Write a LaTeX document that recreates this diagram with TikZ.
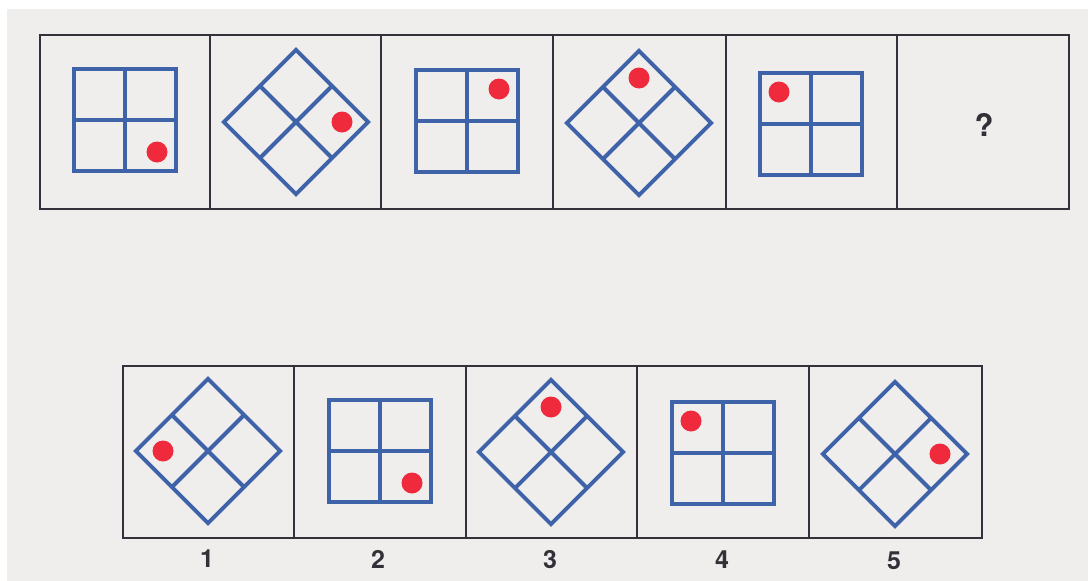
\documentclass[tikz,border=0pt]{standalone}
\usepackage{fontspec}
\setmainfont{TeX Gyre Heros}
\definecolor{bgc}{HTML}{F0EEEC}
\definecolor{gridc}{HTML}{3F63A8}
\definecolor{dotc}{HTML}{EE2A3C}
\definecolor{framec}{HTML}{35303A}
\definecolor{txtc}{HTML}{333038}
\tikzset{
  gridline/.style={draw=gridc,line width=3.9pt,line join=miter},
  framebox/.style={draw=framec,line width=1.8pt},
  reddot/.style={fill=dotc},
  numlabel/.style={font=\fontsize{25}{25}\selectfont\bfseries,text=txtc,inner sep=0pt}
}
% figure: centre x, centre y, rotation, dot dx, dot dy
\newcommand\puzfig[5]{%
  \begin{scope}[shift={(#1,#2)}]
    \begin{scope}[rotate=#3]
      \draw[gridline] (-51,-51) rectangle (51,51);
      \draw[gridline] (0,-51) -- (0,51);
      \draw[gridline] (-51,0) -- (51,0);
    \end{scope}
    \fill[reddot] (#4,#5) circle (10.5);
  \end{scope}}
\begin{document}
\begin{tikzpicture}[x=1pt,y=-1pt]
\useasboundingbox (0,0) rectangle (1088,581);
\fill[white] (0,0) rectangle (1088,581);
\fill[bgc] (7,9) rectangle (1088,581);
% top row frames
\draw[framebox] (40,35) rectangle (1069,209);
\foreach \x in {210,381,553,726,897} \draw[framebox] (\x,35) -- (\x,209);
% top row figures
\puzfig{125}{120}{0}{32}{32}
\puzfig{296}{122}{45}{46}{0}
\puzfig{467}{121}{0}{32}{-32}
\puzfig{639}{123}{45}{0}{-45}
\puzfig{811}{124}{0}{-32}{-32}
\node[font=\fontsize{31}{31}\selectfont\bfseries,text=txtc,inner sep=0pt] (q) at (984,125) {?};
% bottom row frames
\draw[framebox] (123,366) rectangle (982,538);
\foreach \x in {294,466,637,809} \draw[framebox] (\x,366) -- (\x,538);
% bottom row figures
\puzfig{208}{451}{45}{-45}{0}
\puzfig{380}{451}{0}{32}{32}
\puzfig{551}{452}{45}{0}{-45}
\puzfig{723}{453}{0}{-32}{-32}
\puzfig{895}{454}{45}{45}{0}
% labels
\node[numlabel] (l1) at (207,559) {1};
\node[numlabel] (l2) at (378,559) {2};
\node[numlabel] (l3) at (550,560) {3};
\node[numlabel] (l4) at (722,560) {4};
\node[numlabel] (l5) at (894,561) {5};
\end{tikzpicture}
\end{document}
